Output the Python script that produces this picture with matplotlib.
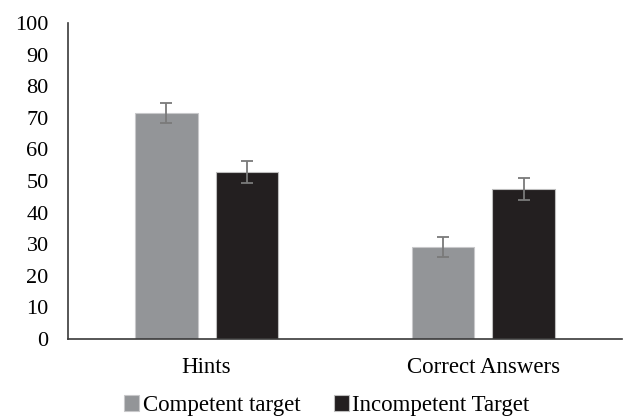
import matplotlib.pyplot as plt
import numpy as np

# values
categories = ['Hints', 'Correct Answers']
series_names = ['Competent target', 'Incompetent Target']
competent = [71.4, 29.0]
competent_err = [3.2, 3.2]
incompetent = [52.9, 47.5]
incompetent_err = [3.5, 3.6]
yticks = list(range(0, 101, 10))

plt.rcParams['font.family'] = ['Liberation Serif', 'DejaVu Serif']

fig = plt.figure(figsize=(6.25, 4.18), dpi=100)
ax = fig.add_axes([0.109, 0.189, 0.886, 0.756])

x = np.arange(len(categories))
width = 0.225
offset = 0.145
err_style = {'ecolor': '#7a7a7a', 'elinewidth': 1.3, 'capsize': 4, 'capthick': 1.3}

ax.bar(x - offset, competent, width, yerr=competent_err, color='#939598',
       edgecolor='#c8c8ca', linewidth=0.8, label=series_names[0], error_kw=err_style)
ax.bar(x + offset, incompetent, width, yerr=incompetent_err, color='#231f20',
       edgecolor='#bdbdbd', linewidth=0.8, label=series_names[1], error_kw=err_style)

ax.set_xlim(-0.5, 1.5)
ax.set_ylim(0, 100)
ax.set_yticks(yticks)
ax.set_xticks(x)
ax.set_xticklabels(categories)
ax.tick_params(axis='y', length=0, labelsize=16, pad=14)
ax.tick_params(axis='x', length=0, labelsize=16.5, pad=13)

for side in ['top', 'right']:
    ax.spines[side].set_visible(False)
for side in ['left', 'bottom']:
    ax.spines[side].set_color('#3a3a3a')
    ax.spines[side].set_linewidth(1.2)

fig.legend(loc='lower center', bbox_to_anchor=(0.523, -0.045), ncol=2, frameon=False,
           fontsize=16.5, handlelength=0.65, handleheight=0.65, handletextpad=0.15,
           columnspacing=1.45)

fig.savefig('out.png', dpi=100)
